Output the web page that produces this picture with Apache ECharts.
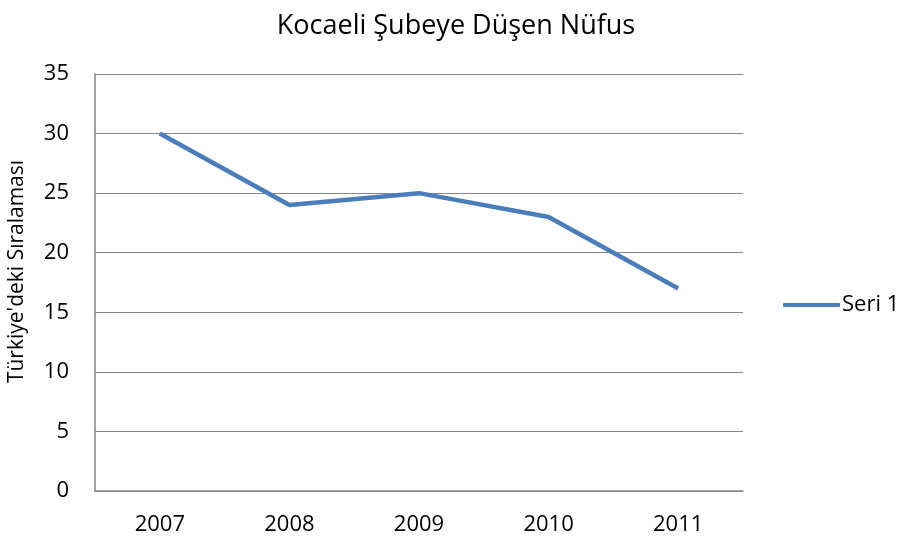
<!DOCTYPE html>
<html>
<head>
<meta charset="utf-8">
<script src="https://cdn.jsdelivr.net/npm/echarts@6/dist/echarts.min.js"></script>
<style>
  html, body { margin: 0; padding: 0; background: #fff; }
  #chart { width: 906px; height: 541px; }
</style>
</head>
<body>
<div id="chart"></div>
<script>
var years = ['2007', '2008', '2009', '2010', '2011'];
var seri1 = [30, 24, 25, 23, 17];
var yTicks = [0, 5, 10, 15, 20, 25, 30, 35];

var font = '"Open Sans", "DejaVu Sans", sans-serif';
var chart = echarts.init(document.getElementById('chart'));

chart.setOption({
    animation: false,
    title: {
        text: 'Kocaeli Şubeye Düşen Nüfus',
        left: 451,
        top: 8,
        textAlign: 'center',
        textStyle: { fontFamily: font, fontSize: 27, fontWeight: 'normal', color: '#000' }
    },
    legend: {
        orient: 'vertical',
        left: 778,
        top: 289,
        itemWidth: 57,
        itemHeight: 4,
        itemGap: 0,
        icon: 'roundRect',
        textStyle: { fontFamily: font, fontSize: 22, color: '#000', padding: [0, 0, 0, -3] },
        data: ['Seri 1']
    },
    grid: { left: 95, right: 163, top: 74, bottom: 50, containLabel: false, outerBoundsMode: 'none' },
    xAxis: {
        type: 'category',
        data: years,
        boundaryGap: true,
        axisLine: { lineStyle: { color: '#868686', width: 1.5 } },
        axisTick: { show: false },
        axisLabel: { fontFamily: font, fontSize: 22, color: '#000', margin: 23 }
    },
    yAxis: {
        type: 'value',
        min: yTicks[0],
        max: yTicks[yTicks.length - 1],
        interval: 5,
        name: "Türkiye'deki Sıralaması",
        nameLocation: 'middle',
        nameGap: 67,
        nameTextStyle: { fontFamily: font, fontSize: 21, color: '#000', padding: [0, 0, 0, 22] },
        axisLine: { show: true, lineStyle: { color: '#868686', width: 1.5 } },
        axisTick: { show: false },
        axisLabel: { fontFamily: font, fontSize: 22, color: '#000', margin: 26, align: 'right' },
        splitLine: { lineStyle: { color: '#868686', width: 1.2 } }
    },
    series: [{
        name: 'Seri 1',
        type: 'line',
        data: seri1,
        symbol: 'none',
        lineStyle: { color: '#4A7EBB', width: 4.5 },
        itemStyle: { color: '#4A7EBB' }
    }]
});
</script>
</body>
</html>
